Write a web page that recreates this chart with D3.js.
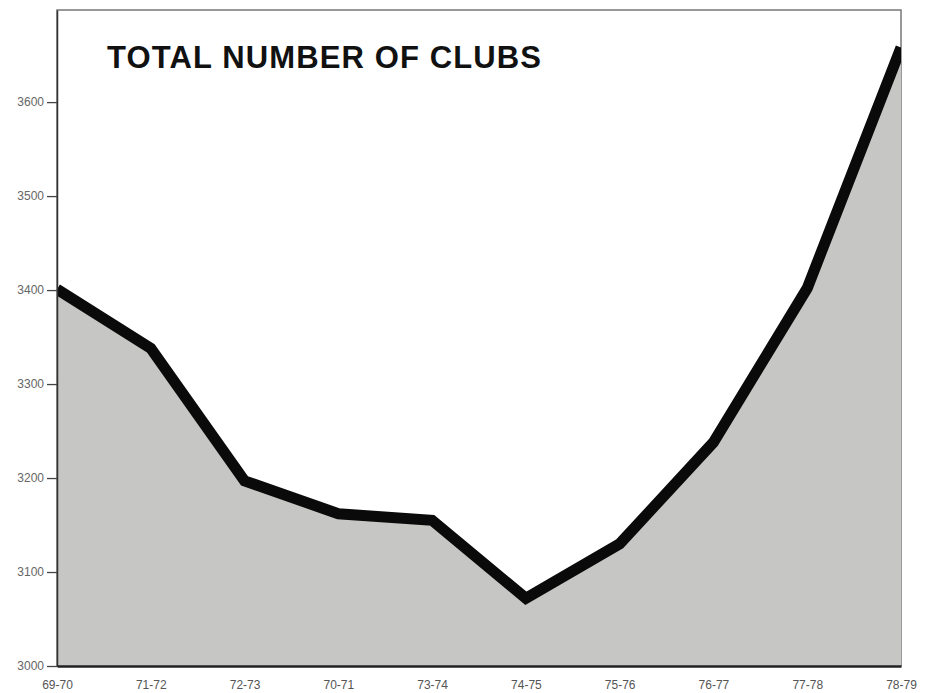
<!DOCTYPE html>
<html>
<head>
<meta charset="utf-8">
<script src="https://cdn.jsdelivr.net/npm/d3@7"></script>
<style>
  body { margin: 0; background: #fff; }
  text { font-family: "Liberation Sans", Arial, sans-serif; }
</style>
</head>
<body>
<div id="chart"></div>
<script>
// season labels, in the order printed on the chart
const seasons = ["69-70", "71-72", "72-73", "70-71", "73-74", "74-75", "75-76", "76-77", "77-78", "78-79"];
const clubs = [3401, 3338, 3197, 3162, 3155, 3072, 3130, 3238, 3402, 3658];
const yTicks = [3000, 3100, 3200, 3300, 3400, 3500, 3600];

const width = 931, height = 693;
const margin = { top: 10, right: 30, bottom: 27, left: 57 };

const svg = d3.select("#chart").append("svg")
  .attr("width", width)
  .attr("height", height);

const x = d3.scalePoint()
  .domain(seasons)
  .range([margin.left, width - margin.right]);

const y = d3.scaleLinear()
  .domain([3000, 3698])
  .range([height - margin.bottom, margin.top]);

// frame
svg.append("rect")
  .attr("x", margin.left)
  .attr("y", margin.top)
  .attr("width", width - margin.left - margin.right)
  .attr("height", height - margin.top - margin.bottom)
  .attr("fill", "#fff")
  .attr("stroke", "#777")
  .attr("stroke-width", 1.5);

// shaded area under the line
const area = d3.area()
  .x((d, i) => x(seasons[i]))
  .y0(y(3000))
  .y1(d => y(d));

svg.append("path")
  .datum(clubs)
  .attr("d", area)
  .attr("fill", "#c6c6c4");

const line = d3.line()
  .x((d, i) => x(seasons[i]))
  .y(d => y(d));

svg.append("clipPath").attr("id", "plot")
  .append("rect")
  .attr("x", margin.left)
  .attr("y", margin.top)
  .attr("width", width - margin.left - margin.right)
  .attr("height", height - margin.top - margin.bottom);

svg.append("path")
  .datum(clubs)
  .attr("d", line)
  .attr("clip-path", "url(#plot)")
  .attr("fill", "none")
  .attr("stroke", "#0a0a0a")
  .attr("stroke-width", 11)
  .attr("stroke-linejoin", "miter");

// axes
const yAxis = d3.axisLeft(y).tickValues(yTicks).tickFormat(d3.format("d"))
  .tickSizeInner(10).tickSizeOuter(0).tickPadding(3);
const gy = svg.append("g")
  .attr("transform", `translate(${margin.left},0)`)
  .call(yAxis);
gy.select(".domain").attr("stroke", "#333").attr("stroke-width", 1.5);
gy.selectAll(".tick line").attr("stroke", "#444").attr("stroke-width", 1.3);
gy.selectAll(".tick text").attr("fill", "#666").attr("font-size", 12);

const xAxis = d3.axisBottom(x).tickSize(0).tickPadding(14);
const gx = svg.append("g")
  .attr("transform", `translate(0,${height - margin.bottom})`)
  .call(xAxis);
gx.select(".domain").attr("stroke", "#222").attr("stroke-width", 2.5);
gx.selectAll(".tick text").attr("fill", "#555").attr("font-size", 12);

// title
svg.append("text")
  .attr("x", 107)
  .attr("y", 68)
  .attr("font-size", 31)
  .attr("font-weight", "bold")
  .attr("fill", "#111")
  .attr("textLength", 434)
  .attr("lengthAdjust", "spacing")
  .text("TOTAL NUMBER OF CLUBS");
</script>
</body>
</html>
